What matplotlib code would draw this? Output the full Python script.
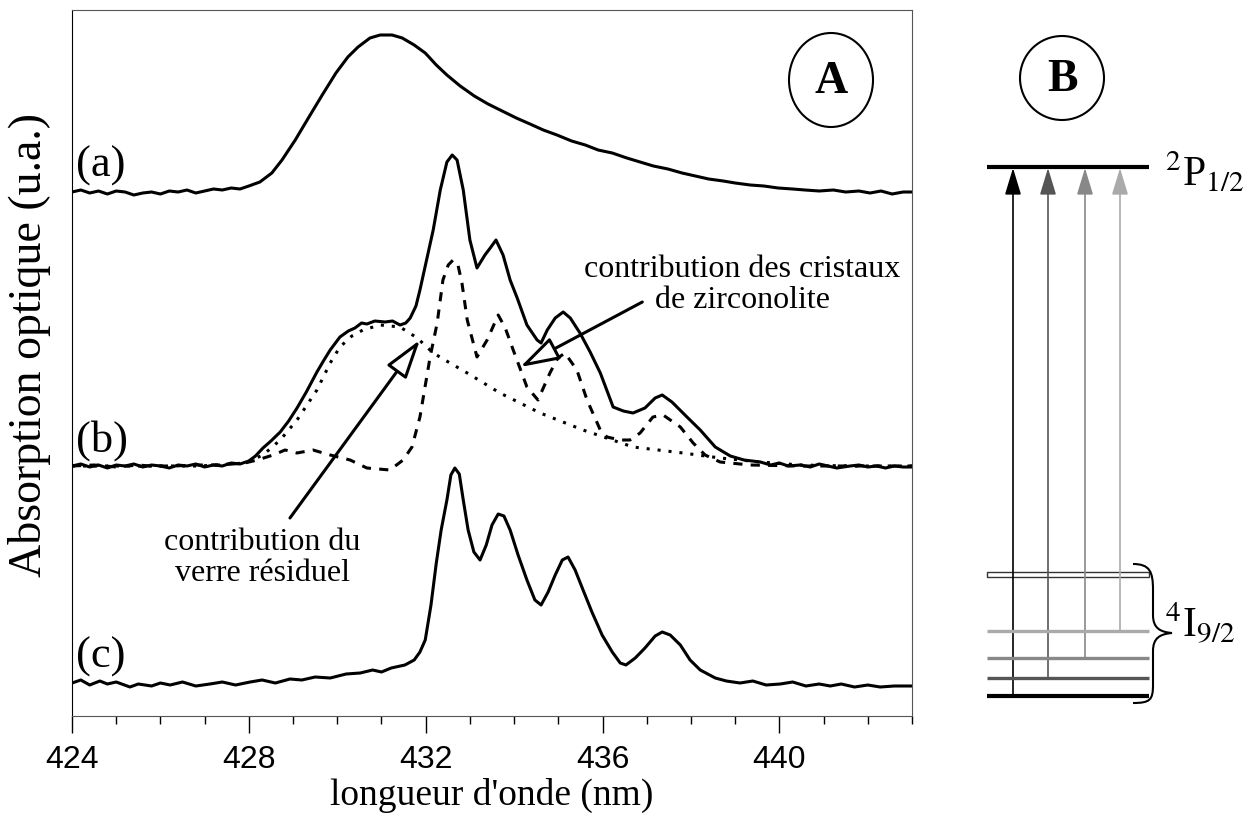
import matplotlib
matplotlib.use("Agg")
import matplotlib.pyplot as plt
from matplotlib.patches import Ellipse, Circle, Rectangle, PathPatch, FancyArrowPatch
from matplotlib.path import Path
from matplotlib.ticker import MultipleLocator

plt.rcParams['font.family'] = ['Liberation Serif', 'DejaVu Serif']
plt.rcParams['mathtext.fontset'] = 'stix'

# spectra (wavelength nm, absorbance a.u. incl. stacking offset)
spec_a = [(424.0, 5.24), (424.2, 5.26), (424.4, 5.23), (424.6, 5.25), (424.8, 5.22), (425.0, 5.25),
          (425.2, 5.24), (425.4, 5.21), (425.6, 5.23), (425.8, 5.24), (426.0, 5.22), (426.2, 5.25),
          (426.4, 5.24), (426.6, 5.26), (426.8, 5.23), (427.0, 5.25), (427.2, 5.27), (427.4, 5.26),
          (427.6, 5.28), (427.8, 5.27), (428.0, 5.30), (428.25, 5.34), (428.52, 5.43), (428.75, 5.56),
          (429.05, 5.76), (429.36, 5.99), (429.66, 6.21), (429.97, 6.43), (430.24, 6.59), (430.47, 6.69),
          (430.74, 6.78), (430.97, 6.81), (431.24, 6.81), (431.47, 6.78), (431.74, 6.71), (431.99, 6.63),
          (432.24, 6.51), (432.48, 6.41), (432.78, 6.30), (433.10, 6.20), (433.41, 6.12), (433.73, 6.05),
          (434.05, 5.98), (434.36, 5.92), (434.66, 5.86), (434.97, 5.81), (435.3, 5.75), (435.61, 5.71),
          (435.9, 5.66), (436.22, 5.63), (436.55, 5.58), (436.85, 5.54), (437.15, 5.50), (437.48, 5.47),
          (437.8, 5.43), (438.10, 5.40), (438.4, 5.37), (438.73, 5.35), (439.0, 5.33), (439.34, 5.31),
          (439.65, 5.30), (439.97, 5.28), (440.3, 5.27), (440.58, 5.26), (440.9, 5.25), (441.22, 5.26),
          (441.5, 5.24), (441.8, 5.25), (442.05, 5.23), (442.3, 5.25), (442.55, 5.22), (442.8, 5.24),
          (443.0, 5.24)]

spec_b = [(424.0, 2.50), (424.2, 2.52), (424.4, 2.49), (424.6, 2.51), (424.8, 2.48), (425.0, 2.51),
          (425.2, 2.50), (425.4, 2.52), (425.6, 2.49), (425.8, 2.51), (426.0, 2.50), (426.2, 2.48),
          (426.4, 2.51), (426.6, 2.50), (426.8, 2.52), (427.0, 2.49), (427.2, 2.51), (427.4, 2.50),
          (427.6, 2.53), (427.8, 2.52), (428.0, 2.55), (428.15, 2.60), (428.32, 2.68), (428.5, 2.75),
          (428.71, 2.84), (428.9, 2.95), (429.09, 3.08), (429.3, 3.24), (429.54, 3.44), (429.7, 3.56),
          (429.84, 3.66), (430.06, 3.79), (430.25, 3.85), (430.40, 3.88), (430.55, 3.93), (430.67, 3.92),
          (430.85, 3.95), (431.08, 3.94), (431.25, 3.95), (431.42, 3.91), (431.55, 3.93), (431.65, 3.98),
          (431.78, 4.10), (431.87, 4.26), (432.0, 4.52), (432.17, 4.86), (432.33, 5.26), (432.48, 5.54),
          (432.60, 5.61), (432.71, 5.56), (432.85, 5.26), (433.00, 4.76), (433.16, 4.48), (433.34, 4.61),
          (433.46, 4.68), (433.59, 4.76), (433.75, 4.61), (433.91, 4.36), (434.07, 4.18), (434.29, 3.91),
          (434.52, 3.76), (434.61, 3.73), (434.75, 3.86), (434.93, 3.98), (435.11, 4.04), (435.27, 3.98),
          (435.49, 3.83), (435.72, 3.64), (435.95, 3.43), (436.24, 3.09), (436.47, 3.05), (436.69, 3.03),
          (436.96, 3.08), (437.19, 3.18), (437.35, 3.21), (437.57, 3.14), (437.91, 2.99), (438.21, 2.86),
          (438.55, 2.69), (438.89, 2.60), (439.2, 2.56), (439.57, 2.54), (439.8, 2.51), (440.0, 2.53),
          (440.2, 2.50), (440.47, 2.51), (440.7, 2.49), (440.9, 2.52), (441.1, 2.50), (441.3, 2.48),
          (441.6, 2.50), (441.8, 2.51), (442.0, 2.49), (442.2, 2.50), (442.4, 2.48), (442.6, 2.50),
          (442.8, 2.49), (443.0, 2.49)]

# crystal (zirconolite) contribution to (b)
spec_b_cryst = [(424.0, 2.50), (424.5, 2.51), (425.0, 2.49), (425.5, 2.51), (425.76, 2.50), (426.3, 2.50),
                (426.8, 2.51), (427.35, 2.51), (427.91, 2.53), (428.19, 2.56), (428.55, 2.61), (428.82, 2.66),
                (429.09, 2.63), (429.45, 2.66), (429.84, 2.61), (430.29, 2.56), (430.67, 2.48), (431.19, 2.46),
                (431.49, 2.56), (431.69, 2.69), (431.87, 2.99), (432.10, 3.59), (432.26, 3.93), (432.39, 4.36),
                (432.51, 4.51), (432.62, 4.56), (432.73, 4.51), (432.82, 4.33), (432.94, 3.96), (433.16, 3.59),
                (433.39, 3.76), (433.64, 4.01), (433.80, 3.88), (433.98, 3.66), (434.29, 3.29), (434.54, 3.16),
                (434.81, 3.43), (434.99, 3.58), (435.15, 3.63), (435.42, 3.46), (435.65, 3.16), (435.95, 2.86),
                (436.10, 2.79), (436.40, 2.76), (436.62, 2.76), (436.85, 2.83), (437.14, 2.99), (437.37, 3.01),
                (437.76, 2.89), (438.05, 2.73), (438.32, 2.61), (438.66, 2.54), (439.34, 2.51), (440.47, 2.50),
                (443.0, 2.50)]

# residual glass contribution to (b)
spec_b_glass = [(424.0, 2.50), (426.90, 2.50), (427.91, 2.53), (428.32, 2.61), (428.71, 2.76), (429.09, 2.96),
                (429.54, 3.26), (429.84, 3.53), (430.06, 3.69), (430.33, 3.80), (430.58, 3.86), (430.97, 3.91),
                (431.42, 3.89), (431.81, 3.78), (432.17, 3.63), (432.55, 3.53), (432.94, 3.43), (433.68, 3.23),
                (434.59, 3.03), (435.56, 2.86), (436.69, 2.69), (437.82, 2.63), (438.66, 2.58), (439.57, 2.54),
                (440.47, 2.51), (441.60, 2.50), (443.0, 2.50)]

spec_c = [(424.0, 0.33), (424.2, 0.36), (424.4, 0.31), (424.63, 0.35), (424.8, 0.32), (425.0, 0.34),
          (425.31, 0.29), (425.5, 0.32), (425.8, 0.30), (426.0, 0.33), (426.22, 0.31), (426.5, 0.34),
          (426.8, 0.30), (427.12, 0.32), (427.4, 0.34), (427.7, 0.31), (428.03, 0.34), (428.3, 0.36),
          (428.6, 0.33), (428.93, 0.37), (429.2, 0.36), (429.5, 0.39), (429.84, 0.38), (430.2, 0.42),
          (430.52, 0.43), (430.8, 0.46), (431.0, 0.44), (431.22, 0.48), (431.53, 0.51), (431.74, 0.56),
          (431.87, 0.64), (431.99, 0.76), (432.12, 1.11), (432.24, 1.53), (432.35, 1.86), (432.48, 2.16),
          (432.57, 2.41), (432.66, 2.48), (432.76, 2.42), (432.85, 2.16), (432.96, 1.86), (433.09, 1.64),
          (433.23, 1.56), (433.37, 1.71), (433.50, 1.91), (433.64, 2.02), (433.77, 2.00), (433.91, 1.86),
          (434.09, 1.61), (434.29, 1.36), (434.47, 1.16), (434.61, 1.11), (434.77, 1.24), (434.93, 1.41),
          (435.09, 1.56), (435.22, 1.59), (435.38, 1.46), (435.56, 1.26), (435.76, 1.04), (435.99, 0.81),
          (436.22, 0.64), (436.40, 0.53), (436.53, 0.51), (436.74, 0.58), (436.96, 0.68), (437.19, 0.80),
          (437.35, 0.84), (437.53, 0.81), (437.76, 0.71), (437.98, 0.56), (438.21, 0.46), (438.55, 0.38),
          (438.8, 0.35), (439.11, 0.33), (439.4, 0.35), (439.7, 0.31), (440.02, 0.32), (440.3, 0.34),
          (440.6, 0.30), (440.9, 0.32), (441.15, 0.30), (441.4, 0.32), (441.7, 0.29), (442.0, 0.31),
          (442.28, 0.29), (442.6, 0.30), (443.0, 0.30)]

curve_labels = ['(a)', '(b)', '(c)']
curve_label_y = [5.50, 2.75, 0.59]
x_ticks = [424, 428, 432, 436, 440]

# energy level scheme (panel B), figure pixel positions
levels_y = [696, 678, 658, 631]
levels_col = ['black', '#555555', '#888888', '#aaaaaa']
arrows_x = [1013, 1048, 1085, 1120]
upper_y = 167


def unzip(pairs):
    return [p[0] for p in pairs], [p[1] for p in pairs]


fig = plt.figure(figsize=(12.53, 8.18), dpi=100)
ax = fig.add_axes([72 / 1253, 102 / 818, 840 / 1253, 706 / 818])

lw = 2.2
x, y = unzip(spec_a)
ax.plot(x, y, color='black', lw=lw)
x, y = unzip(spec_b)
ax.plot(x, y, color='black', lw=lw)
x, y = unzip(spec_b_cryst)
ax.plot(x, y, color='black', lw=lw, linestyle=(0, (3, 2.7)))
x, y = unzip(spec_b_glass)
ax.plot(x, y, color='black', lw=lw, linestyle=(0, (1, 2.6)))
x, y = unzip(spec_c)
ax.plot(x, y, color='black', lw=lw)

ax.set_xlim(424, 443)
ax.set_ylim(0, 7.06)
ax.set_yticks([])
ax.set_xticks(x_ticks)
ax.xaxis.set_minor_locator(MultipleLocator(1))
ax.tick_params(axis='x', which='major', length=12, width=1, pad=9, labelsize=23,
               labelfontfamily='Liberation Sans')
ax.tick_params(axis='x', which='minor', length=6, width=1)
for s in ['top', 'right', 'bottom']:
    ax.spines[s].set_color('#555555')
ax.spines['left'].set_color('black')

for lab, yy in zip(curve_labels, curve_label_y):
    ax.text(424.08, yy, lab, fontsize=32, va='center', ha='left')

ax.text(439.16, 4.31, 'contribution des cristaux\nde zirconolite', fontsize=23,
        ha='center', va='center', linespacing=1.1)
ax.text(428.30, 1.58, 'contribution du\nverre résiduel', fontsize=23,
        ha='center', va='center', linespacing=1.1)

head = '-|>,head_length=1.2,head_width=0.37'
ax.annotate('', xy=(434.14, 3.49), xytext=(436.90, 4.14),
            arrowprops=dict(arrowstyle=head, mutation_scale=20, fc='white', ec='black',
                            lw=2.2, shrinkA=0, shrinkB=0))
ax.annotate('', xy=(431.87, 3.76), xytext=(428.93, 1.98),
            arrowprops=dict(arrowstyle=head, mutation_scale=20, fc='white', ec='black',
                            lw=2.2, shrinkA=0, shrinkB=0))

fig.text(30 / 1253, (818 - 345) / 818, 'Absorption optique (u.a.)', rotation=90,
         fontsize=33, ha='center', va='center')
fig.text(492 / 1253, (818 - 795) / 818, "longueur d'onde (nm)", fontsize=27,
         ha='center', va='center')

# overlay in pixel coordinates for the circled letters and the level scheme
ov = fig.add_axes([0, 0, 1, 1])
ov.set_xlim(0, 1253)
ov.set_ylim(818, 0)
ov.axis('off')
ov.patch.set_alpha(0)

ov.add_patch(Ellipse((831, 80), 84, 94, fill=False, lw=1.5, ec='black'))
ov.text(831, 82, 'A', fontsize=33, fontweight='bold', ha='center', va='center')
ov.add_patch(Circle((1062, 78), 42, fill=False, lw=1.5, ec='black'))
ov.text(1062, 80, 'B', fontsize=33, fontweight='bold', ha='center', va='center')

ov.plot([987, 1149], [upper_y, upper_y], color='black', lw=3, solid_capstyle='butt')
ov.add_patch(Rectangle((987, 572), 162, 5, fc='white', ec='#333333', lw=1))
for yl, col in zip(levels_y, levels_col):
    ov.plot([987, 1149], [yl, yl], color=col, lw=3 if col == 'black' else 2.4,
            solid_capstyle='butt')
for xa, yl, col in zip(arrows_x, levels_y, levels_col):
    ov.add_patch(FancyArrowPatch((xa, yl), (xa, upper_y + 1),
                                 arrowstyle='-|>,head_length=1.65,head_width=0.5',
                                 mutation_scale=10, color=col, lw=1.2,
                                 shrinkA=0, shrinkB=0))

brace = Path([(1133, 564), (1150, 564), (1153, 572), (1153, 590),
              (1153, 615),
              (1153, 628), (1160, 632), (1172, 633),
              (1160, 634), (1153, 638), (1153, 651),
              (1153, 685),
              (1153, 700), (1150, 703), (1133, 703)],
             [Path.MOVETO, Path.CURVE4, Path.CURVE4, Path.CURVE4,
              Path.LINETO,
              Path.CURVE4, Path.CURVE4, Path.CURVE4,
              Path.CURVE4, Path.CURVE4, Path.CURVE4,
              Path.LINETO,
              Path.CURVE4, Path.CURVE4, Path.CURVE4])
ov.add_patch(PathPatch(brace, fill=False, lw=1.5, ec='black'))

ov.text(1165, 185, r'$^{2}$P$_{1/2}$', fontsize=30, ha='left', va='baseline')
ov.text(1165, 637, r'$^{4}$I$_{9/2}$', fontsize=30, ha='left', va='baseline')

fig.savefig('out.png', dpi=100)
